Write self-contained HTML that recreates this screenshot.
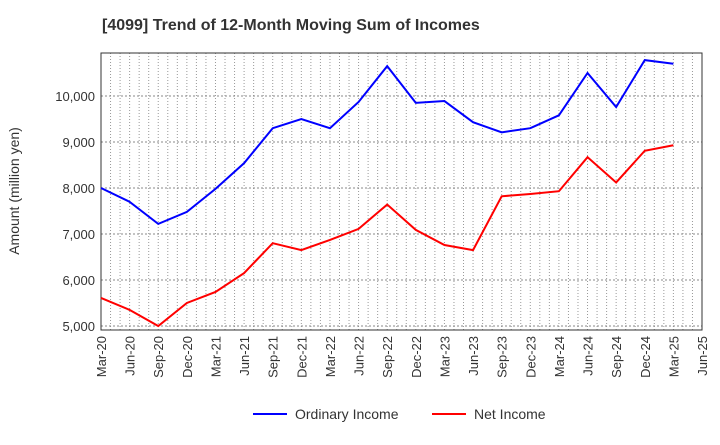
<!DOCTYPE html>
<html><head><meta charset="utf-8"><style>
body{margin:0;background:#fff;font-family:"Liberation Sans",sans-serif}
</style></head><body>
<svg width="720" height="440" xmlns="http://www.w3.org/2000/svg" font-family="Liberation Sans, sans-serif">
<text x="102" y="30" font-size="16" font-weight="bold" fill="#333">[4099]  Trend of 12-Month Moving Sum of Incomes</text>
<text transform="translate(19,191) rotate(-90)" text-anchor="middle" font-size="14" fill="#333">Amount (million yen)</text>
<g id="grid"></g><g id="axes"></g><g id="series"></g>
<g>
<line x1="253" y1="414" x2="287" y2="414" stroke="#0000ff" stroke-width="2"/>
<text x="295" y="419" font-size="14" fill="#333">Ordinary Income</text>
<line x1="432" y1="414" x2="466" y2="414" stroke="#ff0000" stroke-width="2"/>
<text x="474" y="419" font-size="14" fill="#333">Net Income</text>
</g>
</svg>
<script>
const categories=["Mar-20","Jun-20","Sep-20","Dec-20","Mar-21","Jun-21","Sep-21","Dec-21","Mar-22","Jun-22","Sep-22","Dec-22","Mar-23","Jun-23","Sep-23","Dec-23","Mar-24","Jun-24","Sep-24","Dec-24","Mar-25","Jun-25"];
const ordinaryIncome=[8000,7700,7220,7480,7980,8540,9300,9500,9300,9870,10650,9850,9890,9430,9210,9300,9580,10500,9760,10780,10700];
const netIncome=[5610,5350,5000,5500,5740,6150,6800,6650,6870,7110,7640,7090,6760,6650,7820,7870,7930,8670,8120,8810,8930];
const yTicks=[5000,6000,7000,8000,9000,10000];
const yTickLabels=["5,000","6,000","7,000","8,000","9,000","10,000"];
const L=101,R=702,T=53,B=330;
const x=i=>L+i*(R-L)/(categories.length-1);
const y=v=>96+(10000-v)*0.046;
const NS="http://www.w3.org/2000/svg";
function mk(tag,attrs,parent,txt){const e=document.createElementNS(NS,tag);for(const k in attrs)e.setAttribute(k,attrs[k]);if(txt!=null)e.textContent=txt;parent.appendChild(e);return e;}
const grid=document.getElementById('grid'),axes=document.getElementById('axes'),series=document.getElementById('series');
const months=(categories.length-1)*3;
for(let m=1;m<months;m++){const xx=L+m*(R-L)/months;
const g=mk('line',{x1:xx,x2:xx,y1:T,y2:B,stroke:'#999','stroke-width':1,'stroke-dasharray':'1,2'},grid);

}
yTicks.forEach((v,i)=>{const yy=y(v);
const g=mk('line',{x1:L,x2:R,y1:yy,y2:yy,stroke:'#888','stroke-width':1,'stroke-dasharray':'2,2'},grid);


const t=mk('text',{x:L-6,y:yy+5,'text-anchor':'end','font-size':13,fill:'#333'},axes,yTickLabels[i]);

});
const fr=mk('rect',{x:L,y:T,width:R-L,height:B-T,fill:'none',stroke:'#333','stroke-width':1},axes);


categories.forEach((c,i)=>{const xx=x(i);
const t=mk('text',{transform:`translate(${xx+5},${B+6}) rotate(-90)`,'text-anchor':'end','font-size':13,fill:'#333'},axes,c);

});
function line(data,color,name){const p=mk('polyline',{points:data.map((v,i)=>x(i)+','+y(v)).join(' '),fill:'none',stroke:color,'stroke-width':2},series);

}
line(ordinaryIncome,'#0000ff','ordinary-income-line');
line(netIncome,'#ff0000','net-income-line');
</script>
</body></html>
